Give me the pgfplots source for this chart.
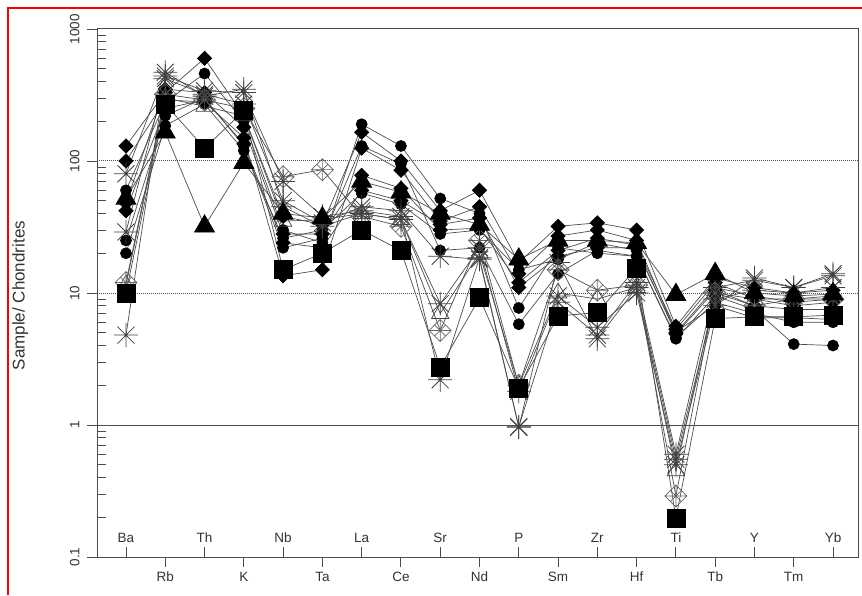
\documentclass[border=0pt]{standalone}
\usepackage{pgfplots}
\usepackage{pgfplotstable}
\pgfplotsset{compat=1.18}
\usepackage{fontspec}
\setmainfont{Liberation Sans}
\pgfdeclareplotmark{dstar}{%
  \pgfpathmoveto{\pgfqpoint{0pt}{\pgfplotmarksize}}%
  \pgfpathlineto{\pgfqpoint{\pgfplotmarksize}{0pt}}%
  \pgfpathlineto{\pgfqpoint{0pt}{-\pgfplotmarksize}}%
  \pgfpathlineto{\pgfqpoint{-\pgfplotmarksize}{0pt}}%
  \pgfpathclose
  \pgfpathmoveto{\pgfqpoint{0pt}{\pgfplotmarksize}}%
  \pgfpathlineto{\pgfqpoint{0pt}{-\pgfplotmarksize}}%
  \pgfpathmoveto{\pgfqpoint{-\pgfplotmarksize}{0pt}}%
  \pgfpathlineto{\pgfqpoint{\pgfplotmarksize}{0pt}}%
  \pgfpathmoveto{\pgfqpoint{-0.5\pgfplotmarksize}{-0.5\pgfplotmarksize}}%
  \pgfpathlineto{\pgfqpoint{0.5\pgfplotmarksize}{0.5\pgfplotmarksize}}%
  \pgfpathmoveto{\pgfqpoint{-0.5\pgfplotmarksize}{0.5\pgfplotmarksize}}%
  \pgfpathlineto{\pgfqpoint{0.5\pgfplotmarksize}{-0.5\pgfplotmarksize}}%
  \pgfusepathqstroke
}
\pgfdeclareplotmark{astr}{%
  \pgfpathmoveto{\pgfqpoint{0pt}{\pgfplotmarksize}}%
  \pgfpathlineto{\pgfqpoint{0pt}{-\pgfplotmarksize}}%
  \pgfpathmoveto{\pgfqpoint{-\pgfplotmarksize}{0pt}}%
  \pgfpathlineto{\pgfqpoint{\pgfplotmarksize}{0pt}}%
  \pgfpathmoveto{\pgfqpoint{-0.707\pgfplotmarksize}{-0.707\pgfplotmarksize}}%
  \pgfpathlineto{\pgfqpoint{0.707\pgfplotmarksize}{0.707\pgfplotmarksize}}%
  \pgfpathmoveto{\pgfqpoint{-0.707\pgfplotmarksize}{0.707\pgfplotmarksize}}%
  \pgfpathlineto{\pgfqpoint{0.707\pgfplotmarksize}{-0.707\pgfplotmarksize}}%
  \pgfusepathqstroke
}
% columns: x = element index (Ba,Rb,Th,K,Nb,Ta,La,Ce,Sr,Nd,P,Sm,Zr,Hf,Ti,Tb,Y,Tm,Yb)
\pgfplotstableread{
x  a    b    c    d    e    f    g    h    i    j    k    l     m    n
0  130  100  80   60   52   48   42   29   25   20   12   10    4.8  11.5
1  330  290  470  280  165  350  250  420  220  185  320  270   440  300
2  600  280  310  460  32   330  290  320  300  270  290  125   340  260
3  220  150  350  200  97   180  135  270  130  120  250  240   330  220
4  38   13.5 45   30   40   28   24   50   22   26   76   15    70   35
5  33   15   32   24   37   28   22   34   26   30   86   20    38   36
6  165  125  40   190  70   78   60   45   130  57   38   30    42   40
7  100  85   36   130  58   62   50   42   95   47   32   21    38   36
8  42   35   8.3  52   40   30   33   19   21   28   5.2  2.75  2.2  7
9  60   45   22   40   33   31   37   18   22   30   25   9.2   18.5 20
10 17   14   1.8  7.7  18   12   11   0.96 5.8  15   2.0  1.9   0.97 2.0
11 32   27   9.5  22   25   21   19   17   14   18   15   6.7   8.5  10
12 34   30   5.5  20   25   26   22   4.5  21   24   10.5 7.1   4.8  9
13 30   25   10   19   24   23   22   11   19   21   11.5 15.5  12   11
14 5.6  5.0  0.5  4.5  9.7  5.3  4.9  0.55 4.6  5.1  0.29 0.197 0.6  0.45
15 13   11   8    9.5  14   12   10.5 9    8.5  8    10   6.4   11   10
16 11   9.5  13   7.5  10   9    8    10.5 7    6.5  8    6.6   12.5 9
17 10   8.5  11   4.1  9.5  8    7.5  10   6    6.5  9    6.6   11   9
18 10.5 9    14   4.0  9.8  8.5  7.5  11   6    6.3  9    6.8   13.5 9.5
}\data
\begin{document}
\begin{tikzpicture}
\path[use as bounding box] (0,0) rectangle (862pt,595pt);
\begin{axis}[
  at={(97pt,38pt)}, anchor=south west,
  scale only axis, width=761pt, height=528pt,
  xmin=-0.738, xmax=18.636, ymin=0.1, ymax=1000, ymode=log,
  font=\fontsize{13.5}{16}\selectfont,
  /pgf/number format/assume math mode=true,
  axis line style={draw=black!70, line width=1pt},
  tick style={draw=black!70, line width=0.9pt},
  tick pos=left,
  major tick length=10pt, minor tick length=9pt,
  xtick={0,2,...,18},
  xticklabels={Ba,Th,Nb,La,Sr,P,Zr,Ti,Y,Yb},
  xtick align=inside,
  extra x ticks={1,3,...,17},
  extra x tick labels={\raisebox{-30pt}{Rb},\raisebox{-30pt}{K},\raisebox{-30pt}{Ta},\raisebox{-30pt}{Ce},\raisebox{-30pt}{Nd},\raisebox{-30pt}{Sm},\raisebox{-30pt}{Hf},\raisebox{-30pt}{Tb},\raisebox{-30pt}{Tm}},
  extra x tick style={xtick align=outside},
  xticklabel style={anchor=base, yshift=15pt, text=black!80},
  ytick={0.1,1,10,100,1000},
  minor ytick={0.2,0.3,0.4,0.5,0.6,0.7,0.8,0.9,2,3,4,5,6,7,8,9,20,30,40,50,60,70,80,90,200,300,400,500,600,700,800,900},
  yticklabels={\rotatebox{90}{0.1},\rotatebox{90}{1},\rotatebox{90}{10},\rotatebox{90}{100},\rotatebox{90}{1000}},
  ytick align=outside,
  minor tick style={xshift=9pt},
  yticklabel style={anchor=east, xshift=-4pt, text=black!80},
  ylabel={Sample/ Chondrites},
  ylabel style={at={(axis description cs:-0.101,0.495)}, anchor=center, rotate=0, font=\fontsize{17}{20}\selectfont, text=black!80},
  every axis plot/.append style={draw=black!70, line width=0.7pt},
  clip=false,
]
\draw[black!70, densely dotted, line width=1pt] (axis cs:-0.738,100) -- (axis cs:18.636,100);
\draw[black!70, densely dotted, line width=1pt] (axis cs:-0.738,10) -- (axis cs:18.636,10);
\draw[black!70, line width=1pt] (axis cs:-0.738,1) -- (axis cs:18.636,1);
\addplot[mark=*, mark size=5.5pt, mark options={fill=black, draw=black}] table[y=d]{\data};
\addplot[mark=*, mark size=5.5pt, mark options={fill=black, draw=black}] table[y=i]{\data};
\addplot[mark=*, mark size=5.5pt, mark options={fill=black, draw=black}] table[y=j]{\data};
\addplot[mark=square*, mark size=5pt, mark options={rotate=45, fill=black, draw=black}] table[y=a]{\data};
\addplot[mark=square*, mark size=5pt, mark options={rotate=45, fill=black, draw=black}] table[y=b]{\data};
\addplot[mark=square*, mark size=5pt, mark options={rotate=45, fill=black, draw=black}] table[y=f]{\data};
\addplot[mark=square*, mark size=5pt, mark options={rotate=45, fill=black, draw=black}] table[y=g]{\data};
\addplot[mark=triangle, mark size=10pt, mark options={draw=black!75}] table[y=n]{\data};
\addplot[mark=dstar, mark size=11pt, mark options={draw=black!60, line width=0.7pt}] table[y=k]{\data};
\addplot[mark=astr, mark size=12pt, mark options={draw=black!75, line width=0.8pt}] table[y=c]{\data};
\addplot[mark=astr, mark size=12pt, mark options={draw=black!75, line width=0.8pt}] table[y=h]{\data};
\addplot[mark=astr, mark size=12pt, mark options={draw=black!75, line width=0.8pt}] table[y=m]{\data};
\addplot[mark=triangle*, mark size=11.5pt, mark options={fill=black, draw=black}] table[y=e]{\data};
\addplot[mark=square*, mark size=9pt, mark options={fill=black, draw=black}] table[y=l]{\data};
\end{axis}
\draw[red, line width=1.6pt] (8pt,0pt) -- (8pt,587pt) -- (862pt,587pt);
\end{tikzpicture}
\end{document}
